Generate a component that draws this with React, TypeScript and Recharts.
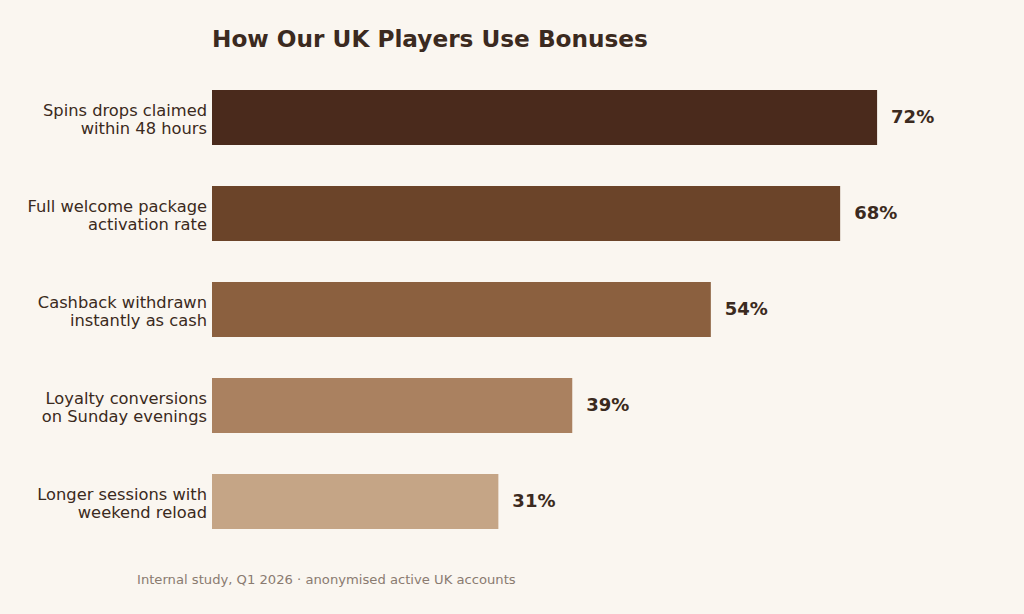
import { BarChart, Bar, XAxis, YAxis, Cell, LabelList } from "recharts";

const labels = [
  ["Spins drops claimed", "within 48 hours"],
  ["Full welcome package", "activation rate"],
  ["Cashback withdrawn", "instantly as cash"],
  ["Loyalty conversions", "on Sunday evenings"],
  ["Longer sessions with", "weekend reload"],
];
const values = [72, 68, 54, 39, 31];
const colors = ["#4a2a1c", "#6b4429", "#8b603f", "#aa8160", "#c5a586"];

const data = labels.map((l, i) => ({ name: l.join("\n"), value: values[i] }));

const font = "'DejaVu Sans', Verdana, sans-serif";
const ink = "#3b2a20";

function CategoryTick({ x, y, payload }: any) {
  const lines = String(payload.value).split("\n");
  return (
    <text x={x} y={y} textAnchor="end" fill={ink} fontSize={16.3} fontFamily={font}>
      {lines.map((ln, i) => (
        <tspan key={i} x={x} dy={i === 0 ? -1.5 : 18}>
          {ln}
        </tspan>
      ))}
    </text>
  );
}

export default function App() {
  return (
    <div
      style={{
        position: "absolute",
        left: 0,
        top: 0,
        width: 1024,
        height: 614,
        background: "#faf6f0",
        fontFamily: font,
      }}
    >
      <div
        style={{
          position: "absolute",
          left: 212,
          top: 25,
          fontSize: 23.2,
          fontWeight: "bold",
          color: ink,
          whiteSpace: "nowrap",
        }}
      >
        How Our UK Players Use Bonuses
      </div>
      <BarChart
        width={1024}
        height={614}
        data={data}
        layout="vertical"
        margin={{ top: 69, right: 73, bottom: 65, left: 12 }}
      >
        <XAxis type="number" domain={[0, 80]} hide />
        <YAxis
          type="category"
          dataKey="name"
          width={200}
          axisLine={false}
          tickLine={false}
          tickSize={0}
          tickMargin={5}
          interval={0}
          tick={<CategoryTick />}
        />
        <Bar dataKey="value" barSize={55} isAnimationActive={false}>
          {data.map((_, i) => (
            <Cell key={i} fill={colors[i]} />
          ))}
          <LabelList
            dataKey="value"
            position="right"
            offset={14}
            formatter={(v: any) => `${v}%`}
            fill={ink}
            fontSize={18}
            fontWeight="bold"
            fontFamily={font}
            dy={-1}
          />
        </Bar>
      </BarChart>
      <div
        style={{
          position: "absolute",
          left: 137,
          top: 572,
          fontSize: 13.15,
          color: "#8a7b70",
          whiteSpace: "nowrap",
        }}
      >
        Internal study, Q1 2026 · anonymised active UK accounts
      </div>
    </div>
  );
}
